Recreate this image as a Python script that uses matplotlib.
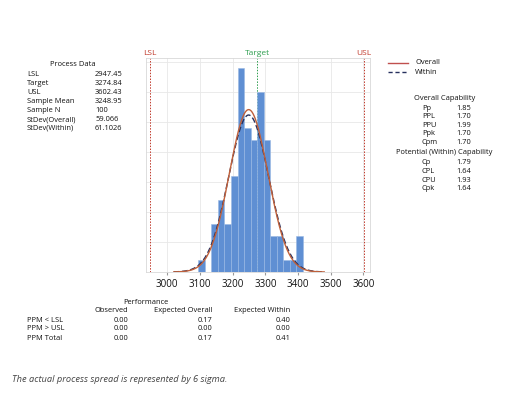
import matplotlib
matplotlib.use('Agg')
import matplotlib.pyplot as plt
from matplotlib.ticker import MultipleLocator
import numpy as np

plt.rcParams['font.family'] = ['Open Sans', 'DejaVu Sans']

# process data
lsl = 2947.45
target = 3274.84
usl = 3602.43
sample_mean = 3248.95
sample_n = 100
sd_overall = 59.066
sd_within = 61.1026

# histogram (bin edges and counts)
bin_edges = [3095, 3115, 3135, 3155, 3175, 3195, 3215, 3235, 3255,
             3275, 3295, 3315, 3335, 3355, 3375, 3395, 3415]
counts = [1, 0, 4, 6, 4, 8, 17, 12, 11, 15, 11, 3, 3, 1, 1, 3]

x_ticks = [3000, 3100, 3200, 3300, 3400, 3500, 3600]

process_labels = ['LSL', 'Target', 'USL', 'Sample Mean', 'Sample N',
                  'StDev(Overall)', 'StDev(Within)']
process_values = ['2947.45', '3274.84', '3602.43', '3248.95', '100',
                  '59.066', '61.1026']

overall_labels = ['Pp', 'PPL', 'PPU', 'Ppk', 'Cpm']
overall_values = ['1.85', '1.70', '1.99', '1.70', '1.70']
within_labels = ['Cp', 'CPL', 'CPU', 'Cpk']
within_values = ['1.79', '1.64', '1.93', '1.64']

perf_rows = ['PPM < LSL', 'PPM > USL', 'PPM Total']
perf_cols = ['Observed', 'Expected Overall', 'Expected Within']
observed = ['0.00', '0.00', '0.00']
exp_overall = ['0.17', '0.00', '0.17']
exp_within = ['0.40', '0.00', '0.41']

W, H = 511, 393
fig = plt.figure(figsize=(W / 100, H / 100), dpi=100)


def fx(px):
    return px / W


def fy(py):
    return 1 - py / H


ax = fig.add_axes([fx(146), fy(272), fx(370) - fx(146), fy(58) - fy(272)])

edges = np.array(bin_edges)
widths = np.diff(edges)
ax.bar(edges[:-1], counts, width=widths, align='edge',
       color='#5f8fd3', edgecolor='#9ab8e4', linewidth=0.4, zorder=2)

bw = widths[0]
xs = np.linspace(3020, 3480, 400)
scale = sample_n * bw


def norm_pdf(x, m, s):
    return np.exp(-0.5 * ((x - m) / s) ** 2) / (s * np.sqrt(2 * np.pi))


ax.plot(xs, scale * norm_pdf(xs, sample_mean, sd_within), color='#26305e',
        lw=1.0, ls=(0, (4, 2)), zorder=3)
ax.plot(xs, scale * norm_pdf(xs, sample_mean, sd_overall), color='#c0603a',
        lw=1.0, zorder=4)

for v, c, lab in [(lsl, '#c0392b', 'LSL'), (target, '#2e9e4f', 'Target'),
                  (usl, '#c0392b', 'USL')]:
    ax.axvline(v, color=c, lw=0.7, ls=(0, (1.5, 1.5)), zorder=1)
    ax.text(v, 17.9, lab, color=c, fontsize=6, ha='center', va='bottom')

ax.set_xlim(2935, 3620)
ax.set_ylim(0, 17.8)
ax.set_xticks(x_ticks)
ax.yaxis.set_major_locator(MultipleLocator(2.5))
ax.tick_params(axis='y', left=False, labelleft=False)
ax.tick_params(axis='x', length=2, pad=3, labelsize=7, color='#999999',
               labelcolor='#111111')
ax.grid(True, color='#e8e8e8', lw=0.6, zorder=0)
ax.set_axisbelow(True)
for sp in ax.spines.values():
    sp.set_color('#d8d8d8')
    sp.set_linewidth(0.6)

fs = 5.4
tc = '#111111'

# process data block
fig.text(fx(73), fy(64), 'Process Data', fontsize=fs, ha='center', va='center', color=tc)
for i, (lab, val) in enumerate(zip(process_labels, process_values)):
    y = 75 + i * 8.9
    fig.text(fx(27), fy(y), lab, fontsize=fs, va='center', color=tc)
    fig.text(fx(95), fy(y), val, fontsize=fs, va='center', color=tc)

# legend
fig.lines.append(plt.Line2D([fx(388), fx(408)], [fy(63), fy(63)],
                            transform=fig.transFigure, color='#c0504d', lw=1.0))
fig.lines.append(plt.Line2D([fx(388), fx(408)], [fy(72), fy(72)],
                            transform=fig.transFigure, color='#26305e', lw=1.0,
                            ls=(0, (3, 2))))
fig.text(fx(415), fy(63), 'Overall', fontsize=fs, va='center', color=tc)
fig.text(fx(415), fy(72), 'Within', fontsize=fs, va='center', color=tc)

# capability blocks
fig.text(fx(445), fy(98), 'Overall Capability', fontsize=fs, ha='center', va='center', color=tc)
for i, (lab, val) in enumerate(zip(overall_labels, overall_values)):
    y = 108 + i * 8.6
    fig.text(fx(422), fy(y), lab, fontsize=fs, va='center', color=tc)
    fig.text(fx(456), fy(y), val, fontsize=fs, va='center', color=tc)

fig.text(fx(444), fy(153), 'Potential (Within) Capability', fontsize=fs, ha='center', va='center', color=tc)
for i, (lab, val) in enumerate(zip(within_labels, within_values)):
    y = 163 + i * 8.6
    fig.text(fx(422), fy(y), lab, fontsize=fs, va='center', color=tc)
    fig.text(fx(456), fy(y), val, fontsize=fs, va='center', color=tc)

# performance table
fig.text(fx(146), fy(302), 'Performance', fontsize=fs, ha='center', va='center', color=tc)
col_x = [128, 212, 290]
for cx, col in zip(col_x, perf_cols):
    fig.text(fx(cx), fy(311), col, fontsize=fs, ha='right', va='center', color=tc)
for i, row in enumerate(perf_rows):
    y = 320 + i * 9
    fig.text(fx(27), fy(y), row, fontsize=fs, va='center', color=tc)
    for cx, vals in zip(col_x, [observed, exp_overall, exp_within]):
        fig.text(fx(cx), fy(y), vals[i], fontsize=fs, ha='right', va='center', color=tc)

fig.text(fx(12), fy(380), 'The actual process spread is represented by 6 sigma.',
         fontsize=6.7, style='italic', va='center', color='#444444')

fig.savefig('out.png', dpi=100)
